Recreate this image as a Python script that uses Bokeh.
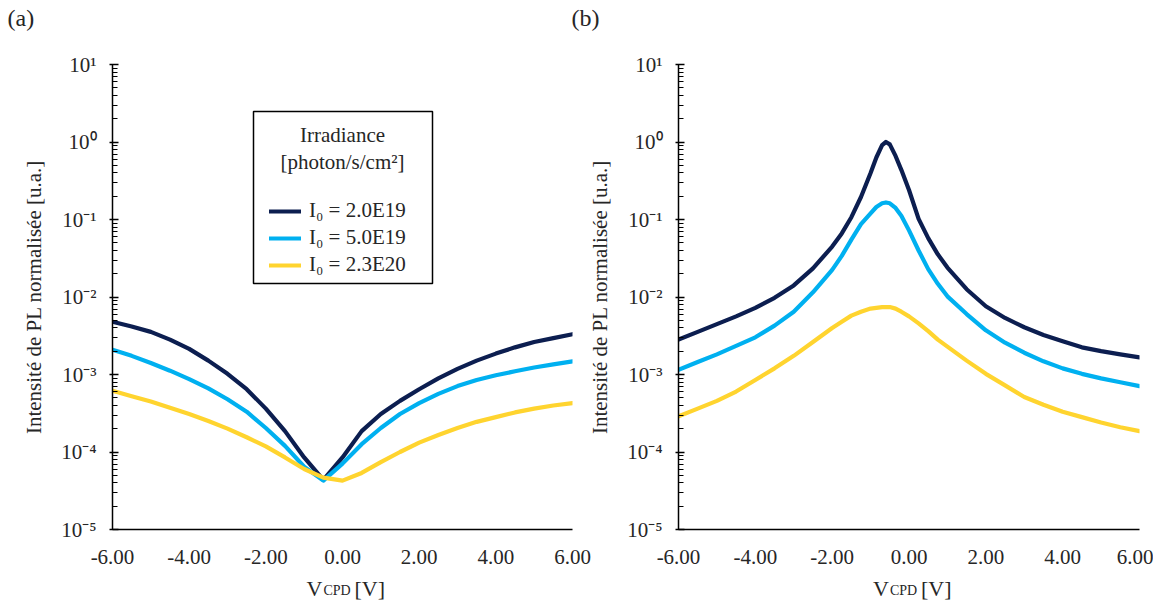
from bokeh.plotting import figure
from bokeh.layouts import row
from bokeh.models import (Range1d, FixedTicker, CustomJSTickFormatter, NumeralTickFormatter,
                          Label, Legend, LegendItem, BoxAnnotation)
from bokeh.embed import file_html
from bokeh.resources import INLINE

FONT = "Liberation Serif"
TXT = "#262626"

series_names = ["I\u2080 = 2.0E19", "I\u2080 = 5.0E19", "I\u2080 = 2.3E20"]
series_colors = ["#0C1E50", "#00B0F0", "#FFD42F"]
legend_title = ["Irradiance", "[photon/s/cm\u00b2]"]
x_ticks = [-6, -4, -2, 0, 2, 4, 6]
y_decades = [1e-5, 1e-4, 1e-3, 1e-2, 1e-1, 1.0, 10.0]
x_title = ["V", "CPD", "[V]"]
y_title = "Intensité de PL normalisée [u.a.]"

# ---- panel (a) ----
xa = [-6, -5.5, -5, -4.5, -4, -3.5, -3, -2.5, -2, -1.5, -1, -0.5, 0,
      0.5, 1, 1.5, 2, 2.5, 3, 3.5, 4, 4.5, 5, 5.5, 6]
a_20e19 = [4.79e-3, 4.17e-3, 3.55e-3, 2.82e-3, 2.14e-3, 1.51e-3, 1.02e-3, 6.46e-4, 3.63e-4,
           1.86e-4, 8.51e-5, 4.37e-5, 8.51e-5, 1.86e-4, 3.09e-4, 4.57e-4, 6.46e-4, 8.91e-4,
           1.18e-3, 1.51e-3, 1.86e-3, 2.24e-3, 2.63e-3, 2.95e-3, 3.31e-3]
a_50e19 = [2.09e-3, 1.74e-3, 1.41e-3, 1.12e-3, 8.71e-4, 6.61e-4, 4.79e-4, 3.31e-4, 2.04e-4,
           1.20e-4, 6.46e-5, 4.27e-5, 7.08e-5, 1.26e-4, 2.04e-4, 3.09e-4, 4.27e-4, 5.62e-4,
           7.08e-4, 8.51e-4, 9.77e-4, 1.10e-3, 1.23e-3, 1.35e-3, 1.48e-3]
a_23e20 = [6.17e-4, 5.25e-4, 4.47e-4, 3.72e-4, 3.09e-4, 2.51e-4, 2.00e-4, 1.55e-4, 1.18e-4,
           8.51e-5, 6.03e-5, 4.68e-5, 4.27e-5, 5.37e-5, 7.41e-5, 1.00e-4, 1.32e-4, 1.66e-4,
           2.04e-4, 2.45e-4, 2.82e-4, 3.24e-4, 3.63e-4, 3.98e-4, 4.27e-4]

# ---- panel (b) ----
xb = [-6, -5.5, -5, -4.5, -4, -3.5, -3, -2.5, -2, -1.75, -1.5, -1.25, -1.0, -0.85, -0.7,
      -0.6, -0.5, -0.35, -0.2, 0, 0.25, 0.5, 0.75, 1, 1.5, 2, 2.5, 3, 3.5, 4, 4.5, 5, 5.5, 6]
b_20e19 = [2.82e-3, 3.55e-3, 4.47e-3, 5.62e-3, 7.24e-3, 9.77e-3, 1.41e-2, 2.34e-2, 4.47e-2,
           6.61e-2, 0.107, 0.195, 0.398, 0.631, 0.912, 1.0, 0.933, 0.661, 0.437, 0.240,
           0.102, 5.75e-2, 3.55e-2, 2.40e-2, 1.26e-2, 7.59e-3, 5.37e-3, 4.07e-3, 3.24e-3,
           2.69e-3, 2.24e-3, 2.00e-3, 1.82e-3, 1.66e-3]
b_50e19 = [1.15e-3, 1.45e-3, 1.82e-3, 2.34e-3, 3.02e-3, 4.27e-3, 6.46e-3, 1.15e-2, 2.24e-2,
           3.39e-2, 5.50e-2, 8.71e-2, 0.120, 0.145, 0.162, 0.166, 0.162, 0.141, 0.112, 7.24e-2,
           3.98e-2, 2.29e-2, 1.48e-2, 1.02e-2, 6.03e-3, 3.72e-3, 2.57e-3, 1.91e-3, 1.48e-3,
           1.20e-3, 1.02e-3, 8.91e-4, 7.94e-4, 7.08e-4]
b_23e20 = [2.88e-4, 3.63e-4, 4.57e-4, 6.03e-4, 8.51e-4, 1.20e-3, 1.74e-3, 2.63e-3, 3.98e-3,
           4.79e-3, 5.75e-3, 6.46e-3, 7.08e-3, 7.24e-3, 7.41e-3, 7.41e-3, 7.41e-3, 7.08e-3,
           6.46e-3, 5.62e-3, 4.57e-3, 3.63e-3, 2.82e-3, 2.29e-3, 1.51e-3, 1.02e-3, 7.24e-4,
           5.13e-4, 4.07e-4, 3.31e-4, 2.82e-4, 2.40e-4, 2.09e-4, 1.86e-4]

SUP_JS = """
const e = Math.round(Math.log10(tick));
const sup = {"-":"\u207b","0":"\u2070","1":"\u00b9","2":"\u00b2","3":"\u00b3","4":"\u2074",
             "5":"\u2075","6":"\u2076","7":"\u2077","8":"\u2078","9":"\u2079"};
return "10" + String(e).split("").map(c => sup[c]).join("");
"""


def make_panel(x, ys, tag, tag_dx, fw, mbl, mbr, with_legend):
    p = figure(frame_width=fw, frame_height=465, x_range=Range1d(-6, 6),
               y_range=Range1d(y_decades[0], y_decades[-1]), y_axis_type="log",
               output_backend="svg", toolbar_location=None,
               min_border_left=mbl, min_border_right=mbr, min_border_top=64, min_border_bottom=70)
    p.outline_line_color = None
    p.xgrid.visible = False
    p.ygrid.visible = False
    p.background_fill_color = "white"
    p.border_fill_alpha = 0.0

    xa_ = p.xaxis[0]
    xa_.ticker = FixedTicker(ticks=x_ticks)
    xa_.formatter = NumeralTickFormatter(format="0.00")
    xa_.major_tick_line_color = None
    xa_.minor_tick_line_color = None
    xa_.axis_line_width = 1.5
    xa_.axis_line_color = "black"
    xa_.major_label_text_font = FONT
    xa_.major_label_text_font_size = "21px"
    xa_.major_label_text_color = TXT
    xa_.major_label_standoff = 14

    ya_ = p.yaxis[0]
    minors = [m * d for d in y_decades[:-1] for m in range(2, 10)]
    ya_.ticker = FixedTicker(ticks=y_decades, minor_ticks=minors)
    ya_.formatter = CustomJSTickFormatter(code=SUP_JS)
    ya_.axis_line_width = 1.5
    ya_.axis_line_color = "black"
    ya_.major_tick_in = 6
    ya_.major_tick_out = 3
    ya_.minor_tick_in = 5
    ya_.minor_tick_out = 0
    ya_.major_tick_line_width = 1.5
    ya_.minor_tick_line_width = 1.2
    ya_.major_label_text_font = FONT
    ya_.major_label_text_font_size = "21px"
    ya_.major_label_text_color = TXT
    ya_.major_label_standoff = 13
    ya_.axis_label = y_title
    ya_.axis_label_text_font = FONT
    ya_.axis_label_text_font_size = "21px"
    ya_.axis_label_text_font_style = "normal"
    ya_.axis_label_text_color = TXT
    ya_.axis_label_standoff = 12

    rends = []
    for yv, c in zip(ys, series_colors):
        r = p.line(x, yv, line_color=c, line_width=4.2, line_join="round", line_cap="round")
        rends.append(r)

    # panel tag (in side panel -> not clipped to the frame)
    p.add_layout(Label(x=-6, y=y_decades[-1], text=tag, x_offset=-mbl + tag_dx, y_offset=47,
                       text_font=FONT, text_font_size="24px", text_color=TXT,
                       text_baseline="middle", text_align="left"), "above")
    # x axis title: V with subscript CPD
    p.add_layout(Label(x=0, y=y_decades[0], text=x_title[0], x_offset=-20, y_offset=-59,
                       text_font=FONT, text_font_size="22px", text_color=TXT,
                       text_baseline="alphabetic", text_align="right"), "below")
    p.add_layout(Label(x=0, y=y_decades[0], text=x_title[1], x_offset=-19, y_offset=-61,
                       text_font=FONT, text_font_size="14px", text_color=TXT,
                       text_baseline="alphabetic", text_align="left"), "below")
    p.add_layout(Label(x=0, y=y_decades[0], text=x_title[2], x_offset=12, y_offset=-59,
                       text_font=FONT, text_font_size="22px", text_color=TXT,
                       text_baseline="alphabetic", text_align="left"), "below")

    if with_legend:
        p.add_layout(BoxAnnotation(left=141, right=320, top=418, bottom=246,
                                   left_units="screen", right_units="screen",
                                   top_units="screen", bottom_units="screen",
                                   fill_color="white", fill_alpha=1.0,
                                   line_color="black", line_alpha=1.0, line_width=1.5,
                                   level="annotation"))
        for i, t in enumerate(legend_title):
            p.add_layout(Label(x=230, y=395 - 27 * i, x_units="screen", y_units="screen",
                               text=t, text_font=FONT, text_font_size="21px", text_color=TXT,
                               text_align="center", text_baseline="middle"))
        items = [LegendItem(label=n, renderers=[r]) for n, r in zip(series_names, rends)]
        leg = Legend(items=items, location=(157, 252), padding=0, margin=0, spacing=2,
                     glyph_width=32, glyph_height=20, label_height=20, label_standoff=8,
                     label_text_font=FONT, label_text_font_size="21px", label_text_color=TXT,
                     border_line_color=None, background_fill_alpha=0.0)
        p.add_layout(leg)
    return p


pa = make_panel(xa, [a_20e19, a_50e19, a_23e20], "(a)", 7, 460, 112, 19, True)
pb = make_panel(xb, [b_20e19, b_50e19, b_23e20], "(b)", 0, 461, 107, 14, False)
pb.margin = (0, 0, 0, -20)

layout = row(pa, pb)
open("out.html", "w").write(file_html(layout, INLINE))
